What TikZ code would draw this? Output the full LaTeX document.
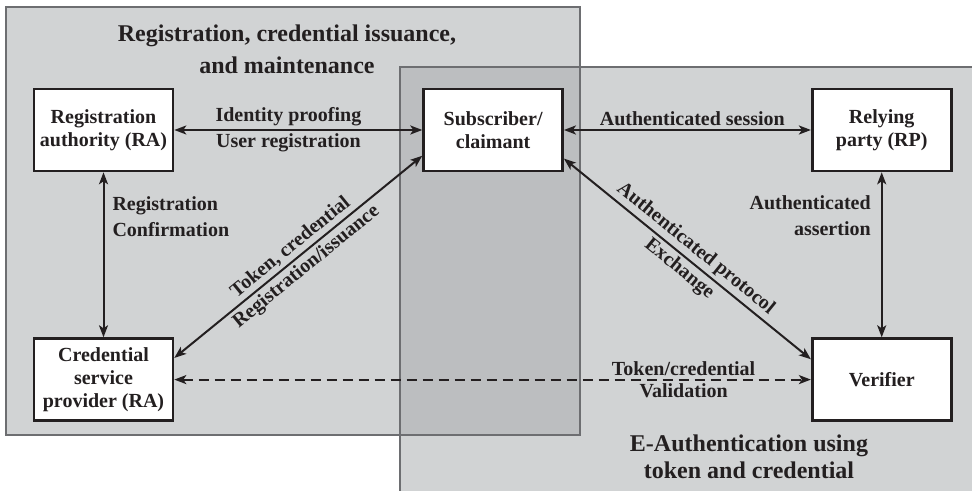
\documentclass[tikz,border=0pt]{standalone}
\usepackage{fontspec}
\setmainfont{Liberation Serif}
\usetikzlibrary{arrows.meta, positioning, calc}
\definecolor{zoneG}{HTML}{D1D3D4}
\definecolor{zoneD}{HTML}{BCBEC0}
\definecolor{edgeG}{HTML}{6D6E71}
\definecolor{inkK}{HTML}{231F20}

\begin{document}
\begin{tikzpicture}[
  entity/.style={
    draw=inkK, fill=white, text=inkK,
    font=\bfseries\fontsize{10}{11.5}\selectfont,
    minimum width=69.5pt, minimum height=41pt,
    align=center, inner sep=2pt,
    line width=1.3pt
  },
  zone/.style={draw=edgeG, line width=0.6pt},
  lbl/.style={
    font=\bfseries\fontsize{10}{13}\selectfont,
    text=inkK, inner sep=1.5pt, align=center
  },
  title/.style={
    font=\bfseries\fontsize{12}{#1}\selectfont,
    text=inkK, align=center
  },
  arr/.style={{Stealth[length=6pt,width=4.5pt,inset=1.5pt]}-{Stealth[length=6pt,width=4.5pt,inset=1.5pt]},
    line width=1pt, inkK},
  darr/.style={arr, dash pattern=on 5pt off 3pt}
]

\useasboundingbox (-51.75pt,65pt) rectangle (434.25pt,-180.5pt);

%% ═══ ZONES ═══
\fill[zoneG] (-48.75pt,61.5pt) rectangle (238.25pt,-152.5pt);
\fill[zoneG] (148.25pt,31.5pt) rectangle (437pt,-183pt);
\fill[zoneD] (148.25pt,31.5pt) rectangle (238.25pt,-152.5pt);
\draw[zone] (-48.75pt,61.5pt) rectangle (238.25pt,-152.5pt);
\draw[zone] (148.25pt,31.5pt) rectangle (437pt,-183pt);

\node[title=16pt] (regtitle) at (91.75pt,40.5pt)
  {Registration, credential issuance,\\and maintenance};
\node[title=13.5pt] (authtitle) at (322.75pt,-163.25pt)
  {E-Authentication using\\token and credential};

%% ═══ ENTITIES ═══
\node[entity] (ra) at (0,0) {Registration\\authority (RA)};
\node[entity, right=124pt of ra] (sub) {Subscriber/\\claimant};
\node[entity, right=123.5pt of sub] (rp) {Relying\\party (RP)};
\node[entity, below=82.5pt of ra] (csp) {Credential\\service\\provider (RA)};
\node[entity, below=82.5pt of rp] (ver) {Verifier};

%% ═══ CONNECTORS ═══
\draw[arr] (ra) -- (sub)
  node[lbl, pos=0.46, above] {Identity proofing}
  node[lbl, pos=0.46, below] {User registration};
\draw[arr] (sub) -- (rp)
  node[lbl, pos=0.52, above] {Authenticated session};
\draw[arr] (ra) -- (csp)
  node[lbl, pos=0.27, right, align=left, xshift=2.5pt] {Registration\\Confirmation};
\draw[arr] (rp) -- (ver)
  node[lbl, pos=0.265, left, align=right, xshift=-3.5pt] {Authenticated\\assertion};
\draw[arr] (sub.200) -- (csp.17)
  node[lbl, midway, sloped, above] {Token, credential}
  node[lbl, midway, sloped, below] {Registration/issuance};
\draw[arr] (sub.-22) -- (ver.164)
  node[lbl, midway, sloped, above] {Authenticated protocol}
  node[lbl, midway, sloped, below] {Exchange};
\draw[darr] (csp) -- (ver)
  node[lbl, pos=0.8, above] {Token/credential}
  node[lbl, pos=0.8, below] {Validation};

\end{tikzpicture}
\end{document}
